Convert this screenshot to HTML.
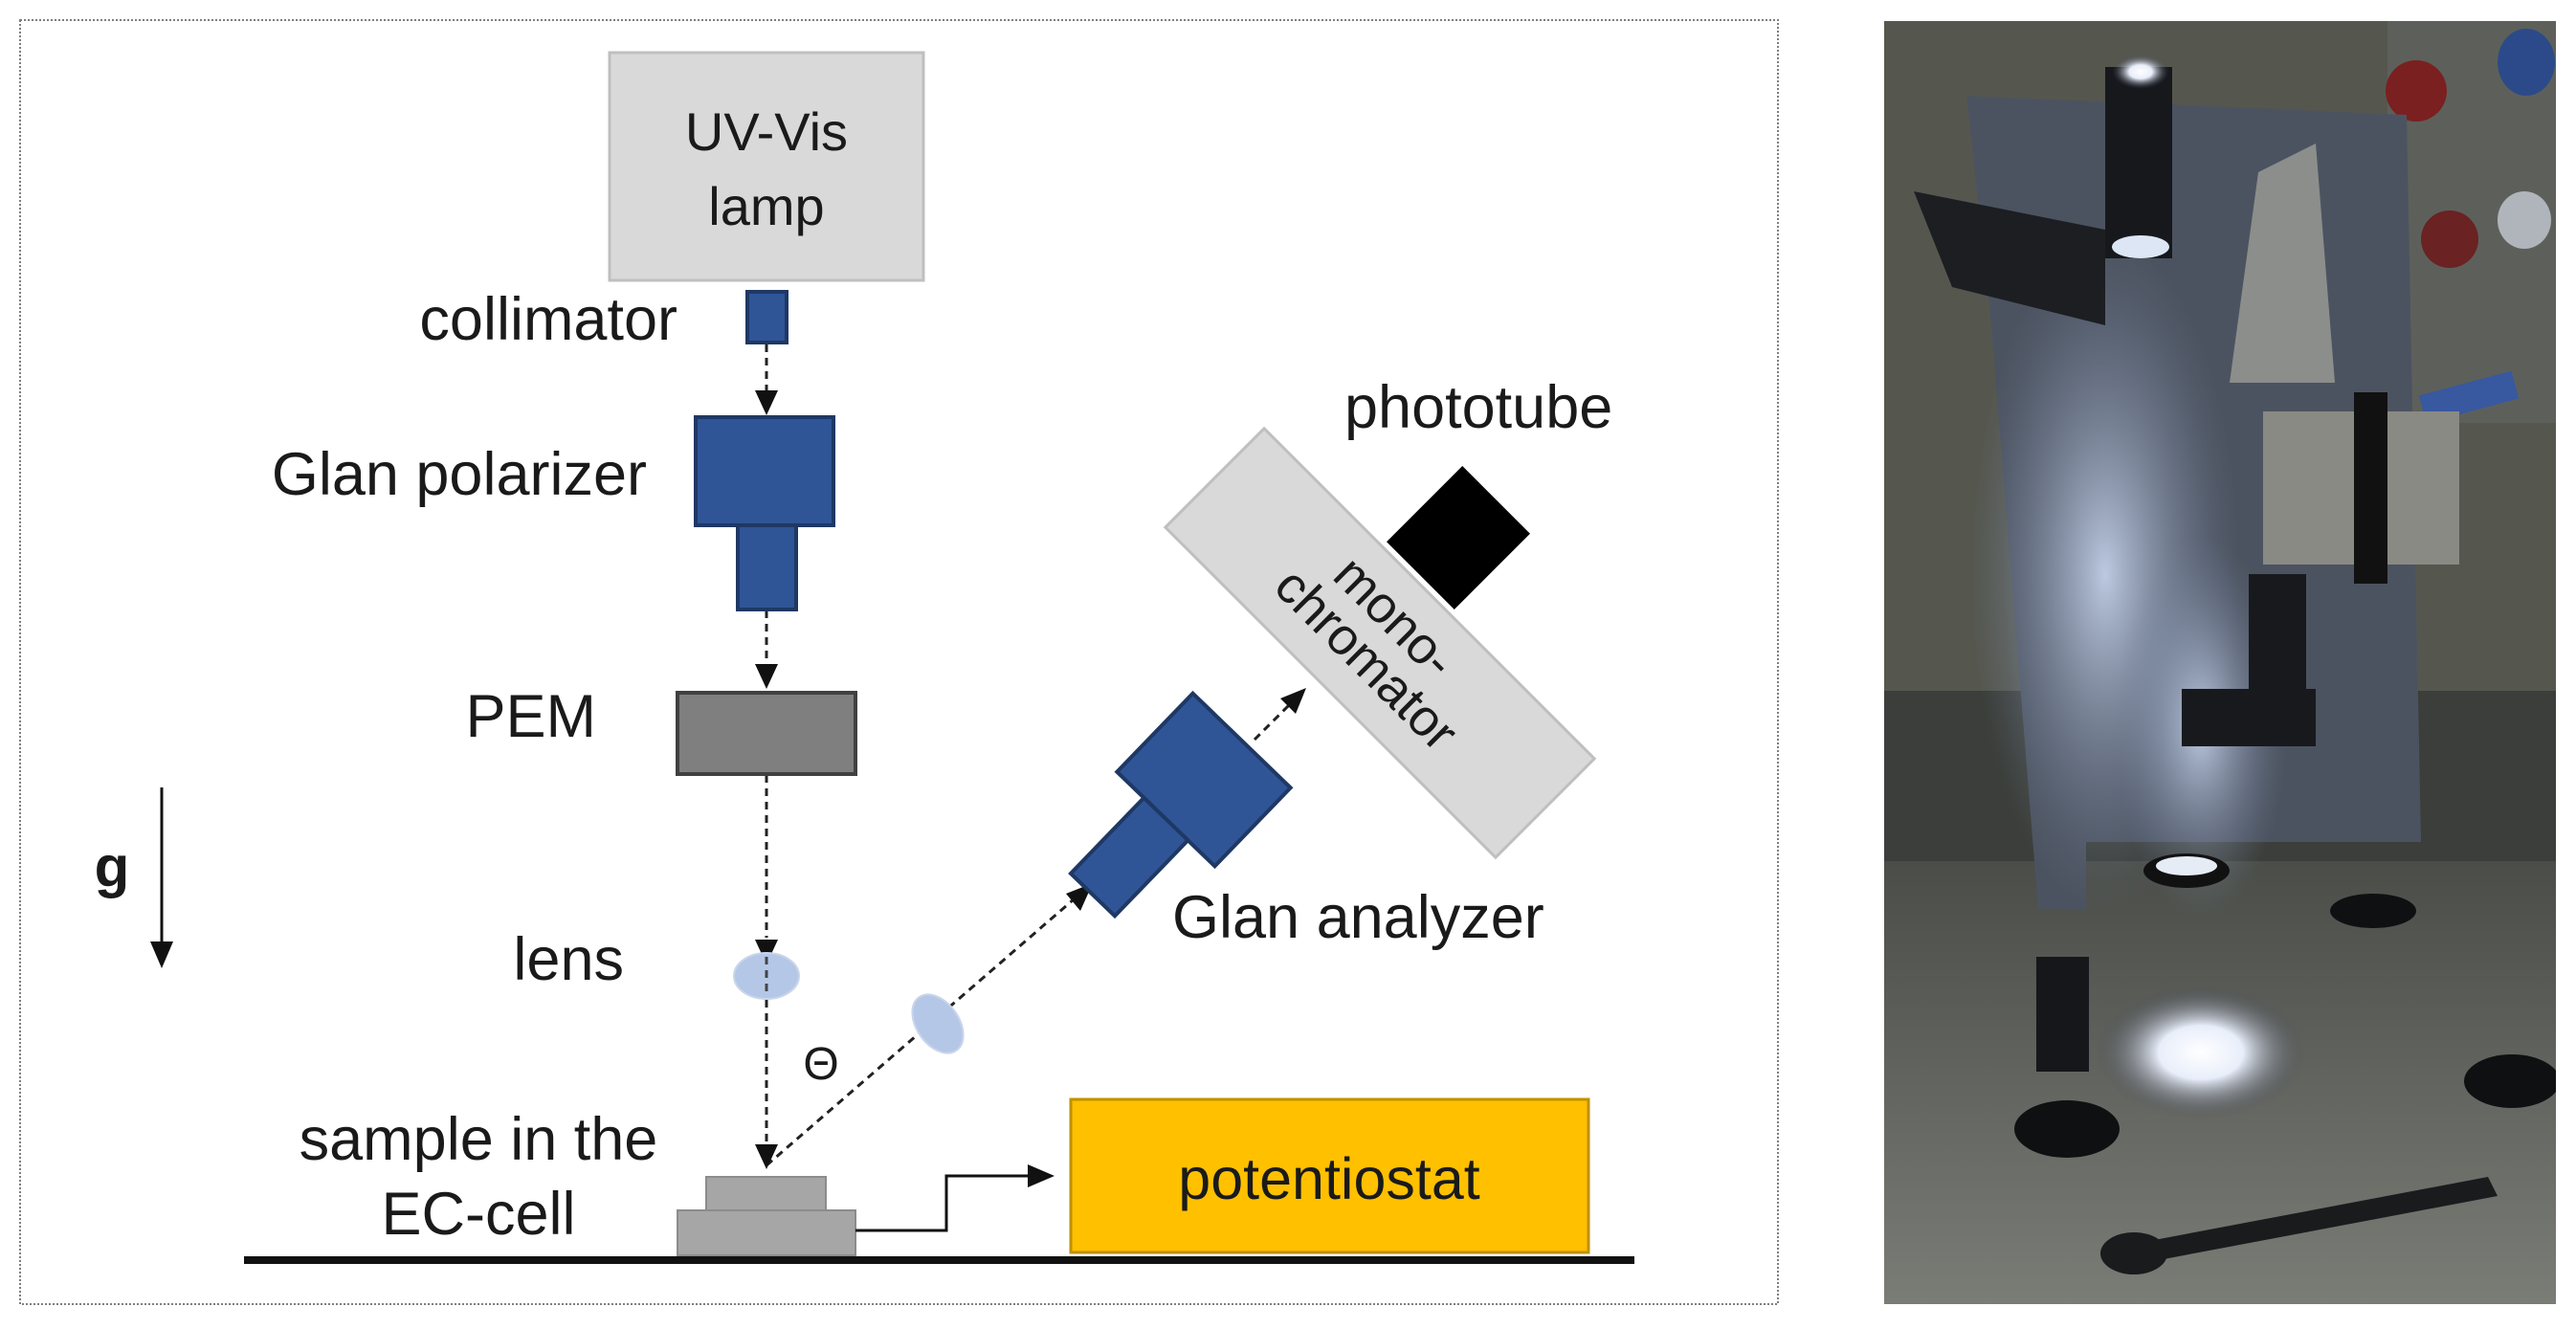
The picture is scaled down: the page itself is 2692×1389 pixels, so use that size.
<!DOCTYPE html>
<html><head><meta charset="utf-8"><style>
html,body{margin:0;padding:0;background:#fff;}
svg{display:block;}
text{font-family:"Liberation Sans",Arial,sans-serif;fill:#1a1a1a;}
</style></head><body>
<svg width="2692" height="1389" viewBox="0 0 2692 1389" xmlns="http://www.w3.org/2000/svg">
<defs>
<radialGradient id="glow" cx="0.5" cy="0.5" r="0.5"><stop offset="0" stop-color="#c9d6ee" stop-opacity="0.9"/><stop offset="1" stop-color="#6f7f9a" stop-opacity="0"/></radialGradient>
<radialGradient id="spot" cx="0.5" cy="0.5" r="0.5"><stop offset="0" stop-color="#ffffff"/><stop offset="0.4" stop-color="#e8eefa"/><stop offset="1" stop-color="#3a4050" stop-opacity="0"/></radialGradient>
<linearGradient id="floor" x1="0" y1="0" x2="0" y2="1"><stop offset="0" stop-color="#4a4d48"/><stop offset="1" stop-color="#7a7c76"/></linearGradient>
</defs>
<rect x="21" y="21" width="1837" height="1342" fill="#fff" stroke="#7f7f7f" stroke-width="2" stroke-dasharray="2,2"/>

<rect x="637" y="55" width="328" height="238" fill="#d9d9d9" stroke="#bfbfbf" stroke-width="3"/>
<text x="801" y="157" font-size="56" text-anchor="middle">UV-Vis</text>
<text x="801" y="235" font-size="56" text-anchor="middle">lamp</text>

<rect x="781" y="305" width="41" height="53" fill="#2f5597" stroke="#1f3864" stroke-width="4"/>
<text x="708" y="355" font-size="63" text-anchor="end">collimator</text>

<g stroke="#222" stroke-width="3" stroke-dasharray="8,6" fill="none">
<line x1="801" y1="360" x2="801" y2="410"/>
<line x1="801" y1="638" x2="801" y2="695"/>
<line x1="801" y1="810" x2="801" y2="980"/>
<line x1="801" y1="1045" x2="801" y2="1195"/>
<line x1="801" y1="1218" x2="1122" y2="940"/>
<line x1="1311" y1="773" x2="1348" y2="736"/>
</g>
<g fill="#111">
<polygon points="801,434 789,408 813,408"/>
<polygon points="801,720 789,694 813,694"/>
<polygon points="801,1008 789,982 813,982"/>
<polygon points="801,1222 789,1196 813,1196"/>
<polygon points="1142,923 1114,934 1129,952"/>
<polygon points="1365,719 1338,730 1354,746"/>
</g>

<rect x="727" y="436" width="144" height="113" fill="#2f5597" stroke="#1f3864" stroke-width="4"/>
<rect x="771" y="549" width="61" height="88" fill="#2f5597" stroke="#1f3864" stroke-width="4"/>
<text x="676" y="517" font-size="63" text-anchor="end">Glan polarizer</text>

<rect x="708" y="724" width="186" height="85" fill="#7f7f7f" stroke="#404040" stroke-width="4"/>
<text x="623" y="770" font-size="63" text-anchor="end">PEM</text>

<text x="117" y="926" font-size="60" font-weight="bold" text-anchor="middle">g</text>
<line x1="169" y1="823" x2="169" y2="985" stroke="#111" stroke-width="3"/>
<polygon points="169,1012 157,984 181,984" fill="#111"/>

<ellipse cx="801" cy="1020" rx="34" ry="24" fill="#b4c7e7" stroke="#c9d5ea" stroke-width="2"/>
<text x="652" y="1024" font-size="63" text-anchor="end">lens</text>
<line x1="801" y1="1000" x2="801" y2="1040" stroke="#444" stroke-width="3" stroke-dasharray="8,6"/>

<ellipse cx="0" cy="0" rx="34" ry="22" transform="translate(980,1070) rotate(55)" fill="#b4c7e7" stroke="#c9d5ea" stroke-width="2"/>
<text x="858" y="1128" font-size="48" text-anchor="middle">Θ</text>

<g transform="translate(1258,815) rotate(-46)">
<rect x="-57" y="-71" width="114" height="142" fill="#2f5597" stroke="#1f3864" stroke-width="4"/>
<rect x="-167" y="-32" width="110" height="64" fill="#2f5597" stroke="#1f3864" stroke-width="4"/>
</g>
<text x="1225" y="980" font-size="63">Glan analyzer</text>

<g transform="translate(1442,672) rotate(45)">
<rect x="-244" y="-73" width="488" height="146" fill="#d9d9d9" stroke="#bfbfbf" stroke-width="3"/>
<text x="-8" y="-12" font-size="54" text-anchor="middle">mono-</text>
<text x="2" y="40" font-size="54" text-anchor="middle">chromator</text>
</g>
<g transform="translate(1524,562) rotate(45)">
<rect x="-50" y="-56" width="100" height="112" fill="#000"/>
</g>
<text x="1405" y="447" font-size="63">phototube</text>

<rect x="738" y="1230" width="125" height="35" fill="#a6a6a6" stroke="#8c8c8c" stroke-width="2"/>
<rect x="708" y="1265" width="186" height="47" fill="#a6a6a6" stroke="#8c8c8c" stroke-width="2"/>
<text x="500" y="1212" font-size="63" text-anchor="middle">sample in the</text>
<text x="500" y="1290" font-size="63" text-anchor="middle">EC-cell</text>

<polyline points="894,1286 989,1286 989,1229 1075,1229" fill="none" stroke="#111" stroke-width="3"/>
<polygon points="1102,1229 1074,1217 1074,1241" fill="#111"/>

<rect x="1119" y="1149" width="541" height="160" fill="#ffc000" stroke="#bf9000" stroke-width="3"/>
<text x="1389" y="1253" font-size="61" text-anchor="middle">potentiostat</text>

<line x1="255" y1="1317" x2="1708" y2="1317" stroke="#111" stroke-width="8"/>

<g>
<clipPath id="pc"><rect x="1969" y="22" width="702" height="1341"/></clipPath>
<g clip-path="url(#pc)">
<rect x="1969" y="22" width="702" height="1341" fill="#3b3e3a"/>
<rect x="1969" y="22" width="702" height="700" fill="#55574f"/>
<rect x="1969" y="900" width="702" height="463" fill="url(#floor)"/>
<rect x="2495" y="22" width="176" height="420" fill="#5d605a"/>
<circle cx="2525" cy="95" r="32" fill="#7a2020"/>
<circle cx="2560" cy="250" r="30" fill="#6a2222"/>
<ellipse cx="2640" cy="65" rx="30" ry="35" fill="#2c4a8a"/>
<ellipse cx="2638" cy="230" rx="28" ry="30" fill="#b0b5bb"/>
<rect x="2530" y="400" width="100" height="30" fill="#3858a0" transform="rotate(-15 2580 415)"/>
<polygon points="2055,100 2515,120 2530,880 2180,880 2180,950 2130,950 2080,330" fill="#4c5360"/>
<ellipse cx="2200" cy="600" rx="140" ry="350" fill="url(#glow)"/>
<ellipse cx="2300" cy="760" rx="90" ry="200" fill="url(#glow)"/>
<rect x="2200" y="70" width="70" height="200" fill="#16181c"/>
<ellipse cx="2237" cy="75" rx="30" ry="18" fill="url(#spot)"/>
<ellipse cx="2237" cy="258" rx="30" ry="12" fill="#dde6f5"/>
<polygon points="2000,200 2200,240 2200,340 2040,300" fill="#1c1e22"/>
<rect x="2365" y="430" width="205" height="160" fill="#8a8a84"/>
<rect x="2460" y="410" width="35" height="200" fill="#111"/>
<rect x="2350" y="600" width="60" height="120" fill="#18191c"/>
<rect x="2280" y="720" width="140" height="60" fill="#18191c"/>
<polygon points="2360,180 2420,150 2440,400 2330,400" fill="#8c8e8c"/>
<ellipse cx="2285" cy="910" rx="45" ry="18" fill="#111"/>
<ellipse cx="2285" cy="905" rx="32" ry="10" fill="#e6ecf5"/>
<rect x="2128" y="1000" width="55" height="120" fill="#15171a"/>
<ellipse cx="2160" cy="1180" rx="55" ry="30" fill="#0f1012"/>
<ellipse cx="2625" cy="1130" rx="50" ry="28" fill="#0f1012"/>
<ellipse cx="2480" cy="952" rx="45" ry="18" fill="#0f1012"/>
<ellipse cx="2300" cy="1100" rx="110" ry="70" fill="url(#spot)"/>
<polygon points="2230,1300 2600,1230 2610,1250 2240,1320" fill="#1a1b1d"/>
<ellipse cx="2230" cy="1310" rx="35" ry="22" fill="#1a1b1d"/>
</g>
</g>
</svg>
</body></html>
